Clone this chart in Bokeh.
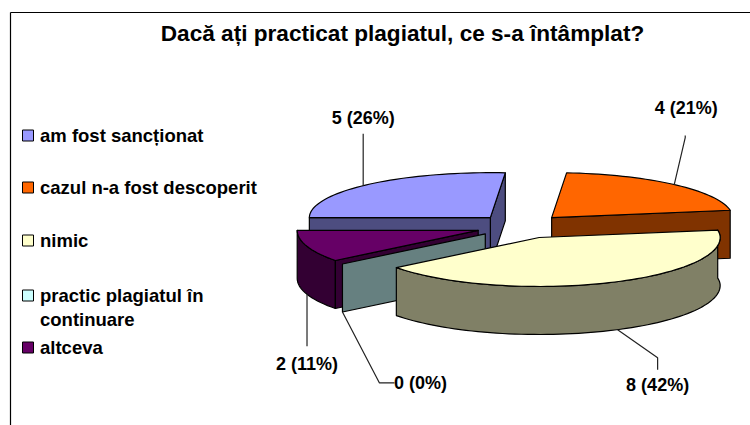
import math
from bokeh.plotting import figure
from bokeh.models import Range1d
from bokeh.embed import file_html
from bokeh.resources import INLINE
from bokeh.core.properties import value

TITLE = "Dacă ați practicat plagiatul, ce s-a întâmplat?"
categories = ["am fost sancționat", "cazul n-a fost descoperit", "nimic",
              "practic plagiatul în\ncontinuare", "altceva"]
values = [5, 4, 8, 0, 2]
top_colors = ["#9999FF", "#FF6600", "#FFFFCC", "#CCFFFF", "#660066"]
wall_colors = ["#4D4D80", "#803300", "#808066", "#668080", "#330033"]

FONT = value("Liberation Sans")
W, H = 750, 425
p = figure(width=W, height=H, output_backend="svg", toolbar_location=None,
           x_range=Range1d(0, W), y_range=Range1d(H, 0),
           x_axis_location=None, y_axis_location=None, min_border=0)
p.grid.visible = False
p.outline_line_color = None
p.background_fill_color = "white"

# pie geometry
CX, CY, RX, RY_BACK, RY_FRONT, DEPTH, EXPLODE = 520.5, 226.0, 181.0, 45.0, 49.0, 48.0, 0.25
START = 270.0
total = sum(values)
spans = []
a = START
for v in values:
    spans.append((a, a + 360.0 * v / total))
    a += 360.0 * v / total


def apex(i):
    mid = math.radians(sum(spans[i]) / 2)
    return (CX + EXPLODE * RX * math.sin(mid), CY - EXPLODE * 48.0 * math.cos(mid))


def rim(i, deg, drop=0.0):
    ax, ay = apex(i)
    t = math.radians(deg)
    c = math.cos(t)
    return (ax + RX * math.sin(t), ay - c * (RY_BACK if c > 0 else RY_FRONT) + drop)


def arc(i, a0, a1, drop=0.0):
    n = max(2, int(abs(a1 - a0) / 2) + 1)
    return [rim(i, a0 + (a1 - a0) * k / (n - 1), drop) for k in range(n)]


def poly(points, color):
    p.patch([q[0] for q in points], [q[1] for q in points], fill_color=color,
            line_color="black", line_width=1.2, line_join="round")


def cut_face(i, deg, color):
    c = apex(i)
    e = rim(i, deg)
    poly([c, e, (e[0], e[1] + DEPTH), (c[0], c[1] + DEPTH)], color)


def outer_wall(i, a0, a1, color):
    poly(arc(i, a0, a1) + arc(i, a1, a0, DEPTH), color)


def top(i, color):
    poly([apex(i)] + arc(i, *spans[i]), color)


# back to front: sancționat, descoperit, altceva, în continuare, nimic
cut_face(0, spans[0][1], wall_colors[0])
cut_face(0, spans[0][0], wall_colors[0])
top(0, top_colors[0])

cut_face(1, spans[1][1], wall_colors[1])
top(1, top_colors[1])

outer_wall(4, spans[4][0], spans[4][1], wall_colors[4])
cut_face(4, spans[4][0], wall_colors[4])
top(4, top_colors[4])

cut_face(3, spans[3][0], wall_colors[3])

outer_wall(2, max(spans[2][0], 90.0), spans[2][1], wall_colors[2])
top(2, top_colors[2])

# leaders and data labels: anchor on the rim near each slice's bisector
pcts = [f"{v} ({round(100 * v / total)}%)" for v in values]
drops = [0, 0, DEPTH, DEPTH, DEPTH]
anchor_nudge = [-2.0, 0.0, -2.0, 0.0, 0.0]
leader_offsets = [[(0, -52)], [(11, -47), (11, -49)], [(40, 28), (40, 40)],
                  [(37, 71), (52, 71)], [(0, 52)]]
label_offsets = [(0, -68), (12, -77), (40, 55), (78, 71), (0, 70)]
for i in range(len(values)):
    ax, ay = rim(i, sum(spans[i]) / 2 + anchor_nudge[i], drops[i])
    xs = [ax] + [ax + o[0] for o in leader_offsets[i]]
    ys = [ay] + [ay + o[1] for o in leader_offsets[i]]
    p.line(xs, ys, line_color="#222222", line_width=1.2)
    p.text([ax + label_offsets[i][0]], [ay + label_offsets[i][1]], text=[pcts[i]],
           text_font=FONT, text_font_style="bold", text_font_size="18px",
           text_align="center", text_baseline="middle", text_color="black")

# title
p.text([402], [33], text=[TITLE], text_font=FONT, text_font_style="bold",
       text_font_size="22.6px", text_align="center", text_baseline="middle", text_color="black")

# legend
legend_y = [135, 187, 240, 295, 347]
for name, y, col in zip(categories, legend_y, top_colors):
    p.rect([27.5], [y], width=11, height=11, fill_color=col, line_color="black", line_width=1)
    for k, line in enumerate(name.split("\n")):
        p.text([39.5], [y + k * 24], text=[line], text_font=FONT, text_font_style="bold",
               text_font_size="18.5px", text_align="left", text_baseline="middle", text_color="black")

# chart-area frame
p.line([10, 10], [H, 12], line_color="black", line_width=1.2)
p.line([10, W], [12, 12], line_color="black", line_width=1.2)

open("out.html", "w").write(file_html(p, INLINE))
